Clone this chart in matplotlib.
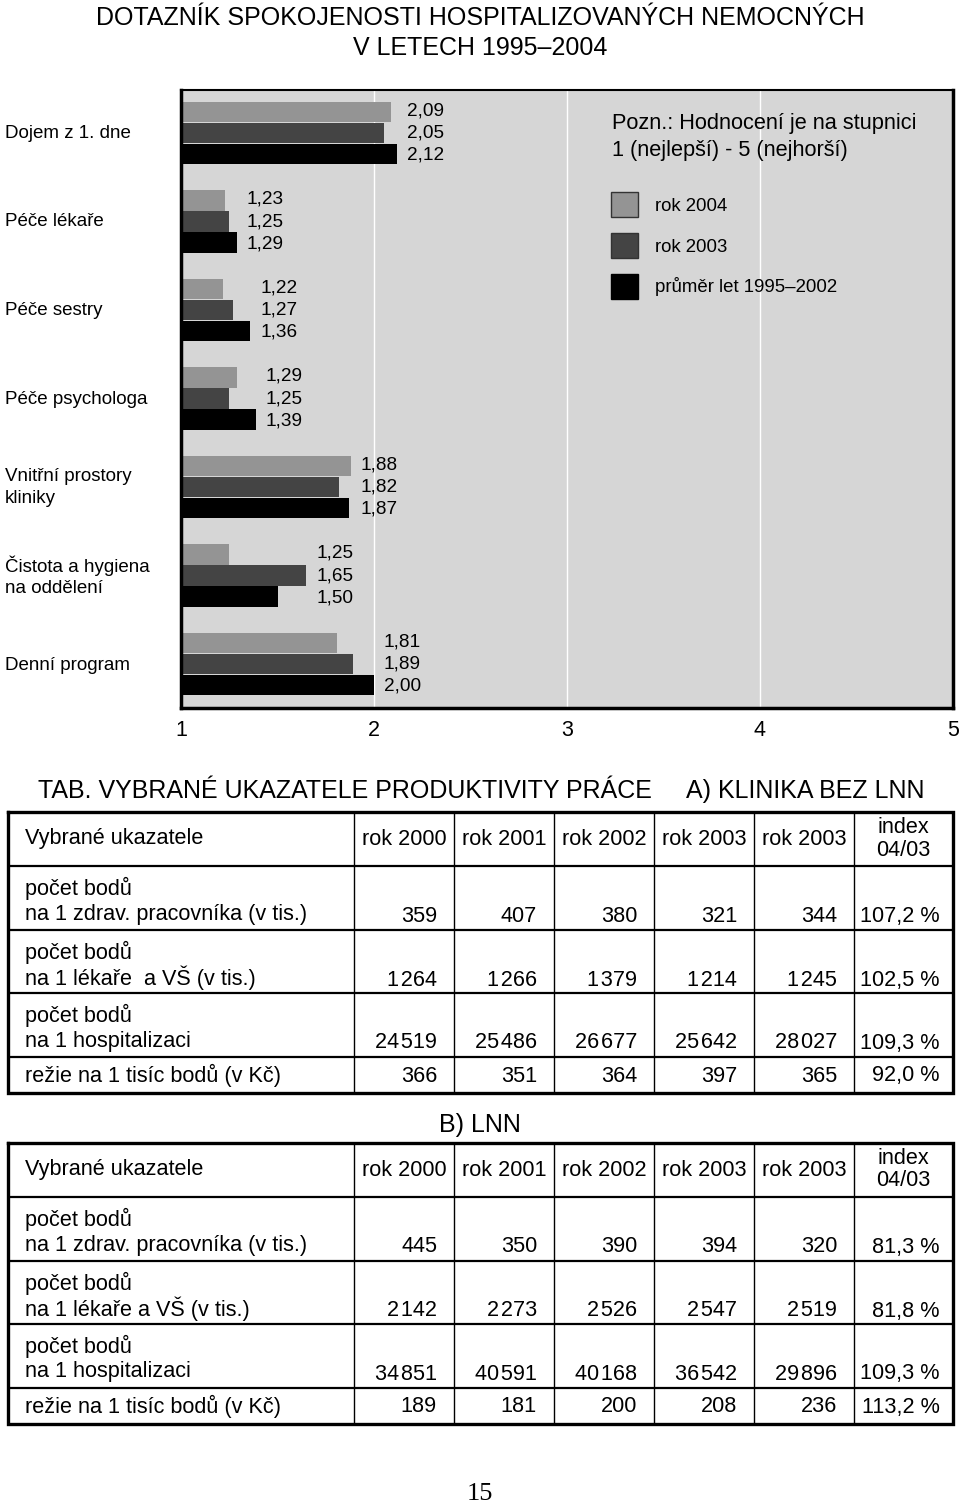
import matplotlib
matplotlib.use('Agg')
import matplotlib.pyplot as plt
from matplotlib.patches import Patch

plt.rcParams['font.family'] = ['Liberation Sans', 'DejaVu Sans']

# --- chart data ---
categories = ['Dojem z 1. dne', 'Péče lékaře', 'Péče sestry', 'Péče psychologa',
              'Vnitřní prostory\nkliniky', 'Čistota a hygiena\nna oddělení', 'Denní program']
rok_2004 = [2.09, 1.23, 1.22, 1.29, 1.88, 1.25, 1.81]
rok_2003 = [2.05, 1.25, 1.27, 1.25, 1.82, 1.65, 1.89]
prumer_95_02 = [2.12, 1.29, 1.36, 1.39, 1.87, 1.50, 2.00]
series_names = ['rok 2004', 'rok 2003', 'průměr let 1995–2002']
x_ticks = [1, 2, 3, 4, 5]

# --- table data ---
header = ['Vybrané ukazatele', 'rok 2000', 'rok 2001', 'rok 2002', 'rok 2003', 'rok 2003', 'index\n04/03']
rows_a = ['počet bodů\nna 1 zdrav. pracovníka (v tis.)', 'počet bodů\nna 1 lékaře  a VŠ (v tis.)',
          'počet bodů\nna 1 hospitalizaci', 'režie na 1 tisíc bodů (v Kč)']
vals_a = [[359, 407, 380, 321, 344],
          [1264, 1266, 1379, 1214, 1245],
          [24519, 25486, 26677, 25642, 28027],
          [366, 351, 364, 397, 365]]
index_a = ['107,2 %', '102,5 %', '109,3 %', '92,0 %']
rows_b = ['počet bodů\nna 1 zdrav. pracovníka (v tis.)', 'počet bodů\nna 1 lékaře a VŠ (v tis.)',
          'počet bodů\nna 1 hospitalizaci', 'režie na 1 tisíc bodů (v Kč)']
vals_b = [[445, 350, 390, 394, 320],
          [2142, 2273, 2526, 2547, 2519],
          [34851, 40591, 40168, 36542, 29896],
          [189, 181, 200, 208, 236]]
index_b = ['81,3 %', '81,8 %', '109,3 %', '113,2 %']

colors = ['#949494', '#444444', '#000000']

W, H = 960, 1506
fig = plt.figure(figsize=(W / 100, H / 100), dpi=100)

# overlay in pixel coordinates for page text and tables
ov = fig.add_axes([0, 0, 1, 1])
ov.set_xlim(0, W)
ov.set_ylim(H, 0)
ov.axis('off')
ov.set_zorder(3)

# chart axes
cl, cr, ct, cb = 181, 953, 90, 708
ax = fig.add_axes([cl / W, 1 - cb / H, (cr - cl) / W, (cb - ct) / H])
ax.set_facecolor('#d6d6d6')
ax.set_xlim(1, 5)
ax.set_ylim(6.497, -0.486)
ax.set_xticks(x_ticks)
ax.set_xticklabels([str(t) for t in x_ticks], fontsize=15.5)
ax.set_yticks([])
ax.tick_params(axis='x', length=0, pad=9)
for x in x_ticks[1:-1]:
    ax.axvline(x, color='white', lw=1.0, zorder=1)
for s in ax.spines.values():
    s.set_linewidth(2.5)
ax.spines['top'].set_linewidth(1.5)

pos = list(range(len(categories)))
bh = 0.228
off = 0.237
for k, vals in enumerate([rok_2004, rok_2003, prumer_95_02]):
    ys = [p + (k - 1) * off for p in pos]
    ax.barh(ys, [v - 1 for v in vals], left=1, height=bh, color=colors[k], zorder=2)

for i in pos:
    vs = [rok_2004[i], rok_2003[i], prumer_95_02[i]]
    xm = max(vs) + 0.05
    for k, v in enumerate(vs):
        ax.text(xm, i + (k - 1) * 0.25, f'{v:.2f}'.replace('.', ','), fontsize=13.7,
                ha='left', va='center', zorder=3)

for i, c in enumerate(categories):
    ov.text(5, 133 + i * 88.67, c, fontsize=13.5, ha='left', va='center', linespacing=1.35)

# title
ov.text(480, 18, 'DOTAZNÍK SPOKOJENOSTI HOSPITALIZOVANÝCH NEMOCNÝCH', fontsize=18, ha='center', va='center')
ov.text(480, 48, 'V LETECH 1995–2004', fontsize=18, ha='center', va='center')

# note and legend
ov.text(612, 123, 'Pozn.: Hodnocení je na stupnici', fontsize=15.7, ha='left', va='center')
ov.text(612, 150, '1 (nejlepší) - 5 (nejhorší)', fontsize=15.7, ha='left', va='center')
handles = [Patch(facecolor=colors[0], edgecolor='#333333', lw=1),
           Patch(facecolor=colors[1], edgecolor='#333333', lw=1),
           Patch(facecolor=colors[2], edgecolor='#000000', lw=1)]
leg = ov.legend(handles, series_names, loc='upper left', bbox_to_anchor=(611 / W, 1 - 192 / H),
                bbox_transform=fig.transFigure, frameon=False, fontsize=13.4, borderpad=0,
                borderaxespad=0, handlelength=1.45, handleheight=1.7, handletextpad=0.9,
                labelspacing=0.85)


def fmt(v):
    return f'{v:,}'.replace(',', '\u200a')


col_x = [8, 354, 454, 554, 654, 754, 854, 953]
head_h = 54
row_h = [64, 63, 64, 36]


def draw_table(top, labels, vals, index):
    ys = [top, top + head_h]
    for h in row_h:
        ys.append(ys[-1] + h)
    bottom = ys[-1]
    # grid
    for x in col_x[1:-1]:
        ov.plot([x, x], [top, bottom], color='black', lw=1.0, solid_capstyle='butt')
    for y in ys[1:-1]:
        ov.plot([col_x[0], col_x[-1]], [y, y], color='black', lw=1.6, solid_capstyle='butt')
    ov.plot([col_x[0], col_x[-1], col_x[-1], col_x[0], col_x[0]], [top, top, bottom, bottom, top],
            color='black', lw=2.4, solid_joinstyle='miter')
    fs = 15.6
    # header
    ov.text(25, top + 26, header[0], fontsize=fs, ha='left', va='center')
    for j in range(1, 6):
        ov.text((col_x[j] + col_x[j + 1]) / 2, top + 27, header[j], fontsize=fs, ha='center', va='center')
    ix, iy = header[6].split('\n')
    ov.text((col_x[6] + col_x[7]) / 2, top + 15, ix, fontsize=fs, ha='center', va='center')
    ov.text((col_x[6] + col_x[7]) / 2, top + 38, iy, fontsize=fs, ha='center', va='center')
    # rows
    for r, lab in enumerate(labels):
        rt = ys[r + 1]
        parts = lab.split('\n')
        if len(parts) == 2:
            ov.text(25, rt + 22, parts[0], fontsize=fs, ha='left', va='center')
            ov.text(25, rt + 48, parts[1], fontsize=fs, ha='left', va='center')
            vy = rt + 50
        else:
            ov.text(25, rt + 18, parts[0], fontsize=fs, ha='left', va='center')
            vy = rt + 19
        for j, v in enumerate(vals[r]):
            ov.text(col_x[j + 2] - 17, vy, fmt(v), fontsize=fs, ha='right', va='center')
        ov.text(col_x[7] - 13, vy, index[r], fontsize=fs, ha='right', va='center')


ov.text(38, 791, 'TAB. VYBRANÉ UKAZATELE PRODUKTIVITY PRÁCE', fontsize=18, ha='left', va='center')
ov.text(686, 791, 'A) KLINIKA BEZ LNN', fontsize=18, ha='left', va='center')
draw_table(812, rows_a, vals_a, index_a)

ov.text(480, 1125, 'B) LNN', fontsize=18, ha='center', va='center')
draw_table(1143, rows_b, vals_b, index_b)

ov.text(480, 1494, '15', fontsize=19, ha='center', va='center', family=['Liberation Serif', 'DejaVu Serif'])

fig.savefig('out.png', dpi=100)
